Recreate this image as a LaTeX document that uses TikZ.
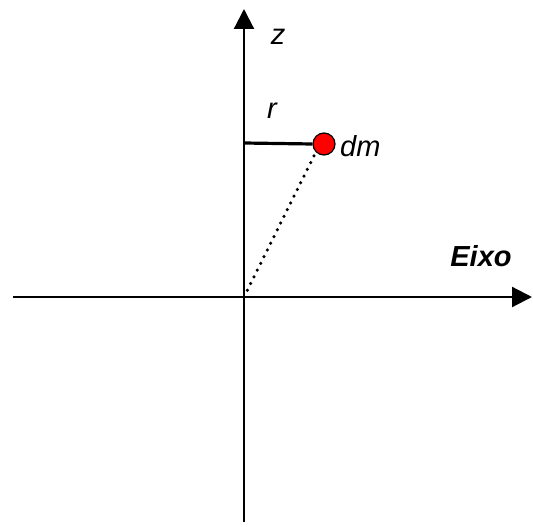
\documentclass[tikz,border=0pt]{standalone}
\usepackage{fontspec}
\setmainfont{Liberation Sans}
\usetikzlibrary{arrows.meta}
\begin{document}
\begin{tikzpicture}[x=1pt,y=-1pt,
  axis/.style={line width=2.2pt,-{Triangle[length=20pt,width=20pt]}},
  lbl/.style={font=\fontsize{29}{32}\selectfont\itshape,inner sep=0pt},
  mass/.style={circle,draw=black,fill=red,line width=1.2pt,minimum size=22pt,inner sep=0pt}]
\useasboundingbox (0,0) rectangle (533,527);
\coordinate (O) at (244,297);
\coordinate (B) at (244,522);
\coordinate (T) at (244,9);
\coordinate (L) at (13,297);
\coordinate (R) at (532,297);
\coordinate (A) at (244,143);
\draw[axis] (B) -- (T);
\draw[axis] (L) -- (R);
\node[mass] (dm) at (324,144) {};
\draw[line width=3.2pt] (A) -- (dm.west);
\draw[line width=3.5pt,line cap=round,dash pattern=on 0pt off 7.5pt] (O) -- (dm.south west);
\node[lbl] (z) at (278,37) {z};
\node[lbl] (r) at (272,111) {r};
\node[lbl,anchor=west] (dml) at (340,146) {dm};
\node[lbl,font=\fontsize{29}{32}\selectfont\bfseries\itshape] (eixo) at (481,256) {Eixo};
\end{tikzpicture}
\end{document}
